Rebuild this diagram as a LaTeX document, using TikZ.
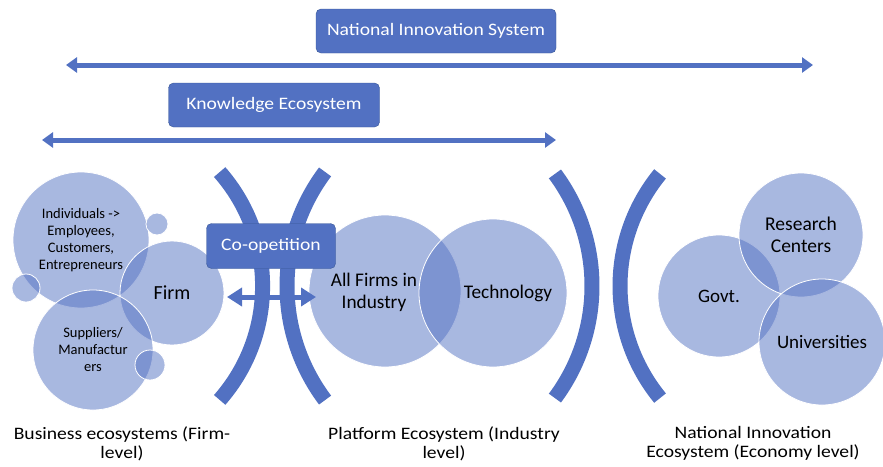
\documentclass[tikz,border=0pt]{standalone}
\usepackage{fontspec}
\setmainfont{Carlito}
\newfontfamily\widefont{Carlito}[FakeStretch=1.12]
\usetikzlibrary{arrows.meta}

\definecolor{ecoblue}{RGB}{82,113,194}
\definecolor{ecoedge}{RGB}{56,87,150}

\begin{document}
\begin{tikzpicture}[x=1pt,y=-1pt,
  bluebox/.style={draw=ecoedge,fill=ecoblue,rounded corners=5pt,text=white,
    font=\widefont\fontsize{17.5}{20}\selectfont,minimum height=44},
  eco/.style={circle,draw=white,line width=0.8pt,fill=ecoblue,fill opacity=0.5,
    text opacity=1,inner sep=0pt,align=center,font=\fontsize{19}{23}\selectfont},
  span/.style={ecoblue,line width=5pt,
    {Triangle[length=11pt,width=15pt]}-{Triangle[length=11pt,width=15pt]}},
  band/.style={ecoblue,line width=15pt},
  caption/.style={align=center,font=\widefont\fontsize{17.5}{19}\selectfont}]
\useasboundingbox (0,0) rectangle (883,466);

% scope arrows on top
\node[bluebox,minimum width=240] (nis) at (436,31) {National Innovation System};
\coordinate (nisL) at (66,65);
\coordinate (nisR) at (813,65);
\draw[span] (nisL) -- (nisR);
\node[bluebox,minimum width=211] (kes) at (274,105) {Knowledge Ecosystem};
\coordinate (kesL) at (42,140);
\coordinate (kesR) at (556,140);
\draw[span] (kesL) -- (kesR);

% boundary arcs
\draw[band] (90,286) ++(-41.3:172.6) arc[start angle=-41.3,end angle=41.3,radius=172.6];
\draw[band] (477,286) ++(143.1:190) arc[start angle=143.1,end angle=216.9,radius=190];
\draw[band] (404,286) ++(-36.6:188) arc[start angle=-36.6,end angle=36.6,radius=188];
\draw[band] (797,286) ++(140.7:177) arc[start angle=140.7,end angle=219.3,radius=177];

% business ecosystem
\node[eco,minimum size=136,font=\fontsize{14.5}{17}\selectfont] (indiv) at (81,240)
  {Individuals ->\\Employees,\\Customers,\\Entrepreneurs};
\node[eco,minimum size=104,font=\fontsize{20}{24}\selectfont] (firm) at (172,293) {Firm};
\node[eco,minimum size=120,font=\fontsize{14.5}{17}\selectfont] (supp) at (93,350)
  {Suppliers/\\Manufactur\\ers};
\node[eco,minimum size=22] (dotA) at (157,224) {};
\node[eco,minimum size=28] (dotB) at (26,288) {};
\node[eco,minimum size=30] (dotC) at (150,365) {};

% platform ecosystem
\node[eco,minimum size=152] (allf) at (385,291) {};
\node[eco,minimum size=148] (tech) at (493,293) {};
\node[align=center,font=\fontsize{19.3}{22}\selectfont] (allfT) at (374,292) {All Firms in\\Industry};
\node[font=\fontsize{19.3}{22}\selectfont] (techT) at (508,293) {Technology};

% national innovation ecosystem
\node[eco,minimum size=122] (govt) at (719,296) {Govt.};
\node[eco,minimum size=124,font=\fontsize{19.5}{22}\selectfont] (rc) at (801,235) {Research\\Centers};
\node[eco,minimum size=126] (univ) at (822,342) {Universities};

% co-opetition
\coordinate (coL) at (227,297);
\coordinate (coR) at (316,297);
\draw[ecoblue,line width=5pt,{Triangle[length=15pt,width=18pt]}-{Triangle[length=15pt,width=18pt]}] (coL) -- (coR);
\node[bluebox,minimum width=129,minimum height=45] (coop) at (271,246) {Co-opetition};

% level captions
\node[caption] (biz) at (122,444) {Business ecosystems (Firm-\\level)};
\node[caption] (plat) at (444,444) {Platform Ecosystem (Industry\\level)};
\node[caption] (nie) at (753,443) {National Innovation\\Ecosystem (Economy level)};
\end{tikzpicture}
\end{document}
